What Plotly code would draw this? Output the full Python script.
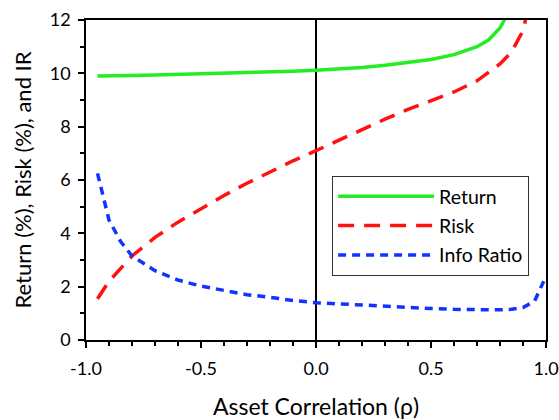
import plotly.graph_objects as go

rho_ret = [-0.95, -0.9, -0.8, -0.7, -0.6, -0.5, -0.4, -0.3, -0.2, -0.1, 0.0,
           0.1, 0.2, 0.3, 0.4, 0.5, 0.6, 0.7, 0.75, 0.8, 0.85, 0.9]
ret = [9.9, 9.9, 9.92, 9.94, 9.96, 9.98, 10.0, 10.02, 10.05, 10.08, 10.12,
       10.16, 10.22, 10.3, 10.4, 10.52, 10.7, 11.0, 11.25, 11.7, 12.5, 13.6]

rho_risk = [-0.95, -0.9, -0.8, -0.7, -0.6, -0.5, -0.4, -0.3, -0.2, -0.1, 0.0,
            0.1, 0.2, 0.3, 0.4, 0.5, 0.6, 0.7, 0.8, 0.85, 0.9, 0.95]
risk = [1.55, 2.2, 3.15, 3.85, 4.42, 4.93, 5.42, 5.88, 6.3, 6.72, 7.1,
        7.5, 7.9, 8.28, 8.65, 8.97, 9.3, 9.72, 10.35, 10.8, 11.6, 13.5]

rho_ir = [-0.95, -0.9, -0.85, -0.8, -0.7, -0.6, -0.5, -0.4, -0.3, -0.2, -0.1, 0.0,
          0.1, 0.2, 0.3, 0.4, 0.5, 0.6, 0.7, 0.8, 0.85, 0.9, 0.95, 0.99]
ir = [6.25, 4.5, 3.7, 3.15, 2.6, 2.25, 2.02, 1.85, 1.7, 1.6, 1.48, 1.4,
      1.35, 1.3, 1.26, 1.22, 1.18, 1.15, 1.13, 1.13, 1.15, 1.22, 1.45, 2.2]

FONT = "Lato"

fig = go.Figure()
fig.add_trace(go.Scatter(x=rho_ret, y=ret, mode="lines", name="Return", legendgroup="a",
                         line=dict(color="#22ee22", width=3.5)))
fig.add_trace(go.Scatter(x=rho_risk, y=risk, mode="lines", name="Risk", legendgroup="b",
                         line=dict(color="#ff1111", width=3.5, dash="16px,10px")))
fig.add_trace(go.Scatter(x=rho_ir, y=ir, mode="lines", name="Info Ratio", legendgroup="c",
                         line=dict(color="#1133ff", width=3.5, dash="8px,6px")))

fig.update_layout(
    width=559, height=420,
    margin=dict(l=86, r=13, t=20, b=80, autoexpand=False),
    paper_bgcolor="white", plot_bgcolor="white",
    font=dict(family=FONT, size=18, color="black"),
    showlegend=True,
    legend=dict(x=0.535, y=0.5125, xanchor="left", yanchor="top",
                bordercolor="#333333", borderwidth=1, bgcolor="white",
                font=dict(size=19.5, family=FONT), itemwidth=96,
                tracegroupgap=1),
    xaxis=dict(range=[-1, 1], tickvals=[-1, -0.5, 0, 0.5, 1],
               ticktext=["-1.0", "-0.5", "0.0", "0.5", "1.0"], automargin=False,
               showgrid=False, zeroline=True, zerolinecolor="black", zerolinewidth=1.5,
               showline=True, linecolor="black", linewidth=1.5, mirror=True,
               ticks="outside", ticklen=6, tickwidth=1.5, tickcolor="black",
               ticklabelstandoff=6,
               minor=dict(dtick=0.1, ticks="outside", ticklen=4, tickwidth=1.5, tickcolor="black"),
               title=dict(text="Asset Correlation (ρ)", font=dict(size=23, family=FONT), standoff=24)),
    yaxis=dict(range=[0, 12], dtick=2, automargin=False,
               showgrid=False, zeroline=False,
               showline=True, linecolor="black", linewidth=1.5, mirror=True,
               ticks="outside", ticklen=6, tickwidth=1.5, tickcolor="black",
               ticklabelstandoff=4,
               minor=dict(dtick=1, ticks="outside", ticklen=4, tickwidth=1.5, tickcolor="black"),
               title=dict(text="Return (%), Risk (%), and IR", font=dict(size=22, family=FONT), standoff=12)),
)

fig.write_html("out.html", config={"displayModeBar": False},
               post_script="document.body.style.margin='0';document.body.style.overflow='hidden';")
